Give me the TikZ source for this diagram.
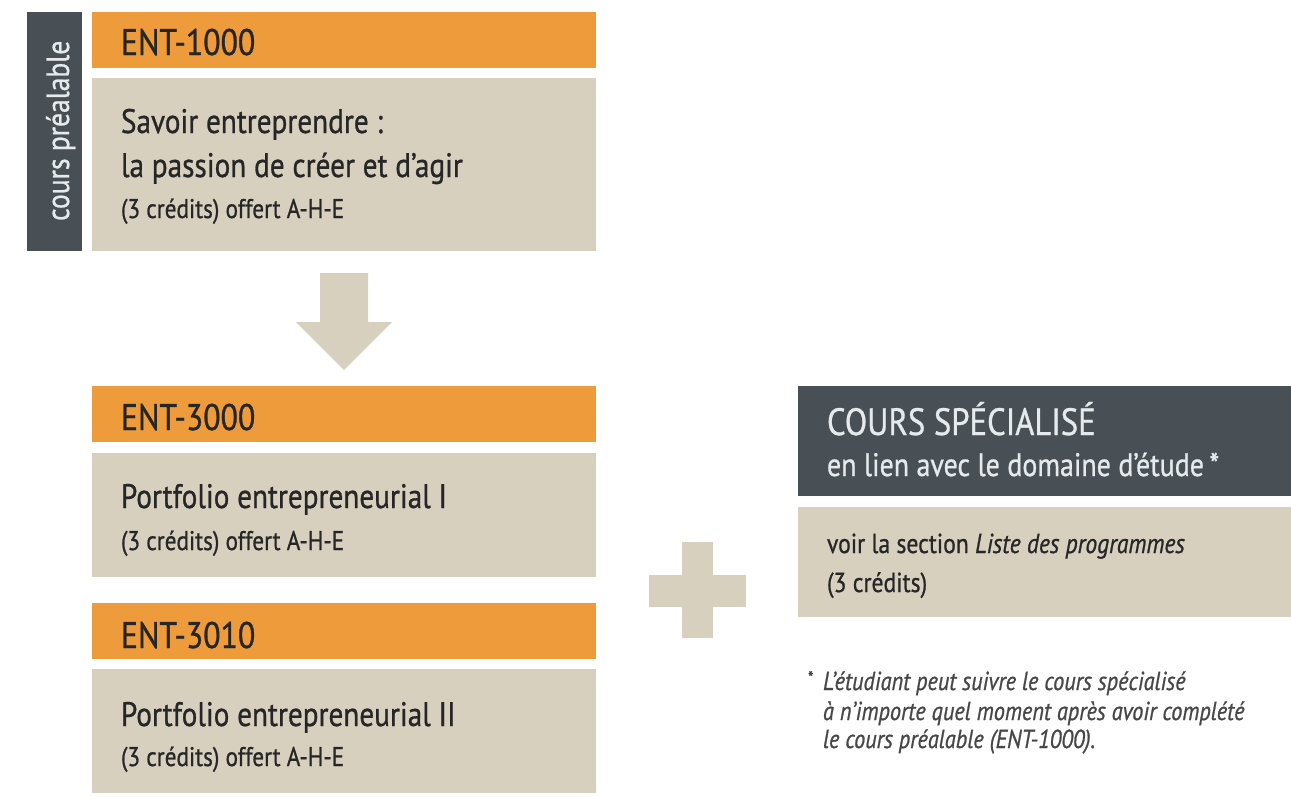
\documentclass[tikz,border=0pt]{standalone}
\usepackage{fontspec}
\setmainfont{PT Sans}[FakeStretch=0.86,FakeBold=0.8]
\definecolor{orng}{HTML}{EE9B3B}
\definecolor{beig}{HTML}{D7D0BF}
\definecolor{slate}{HTML}{485055}
\definecolor{ink}{HTML}{262626}
\definecolor{pale}{HTML}{E6EAEC}
\newcommand{\fs}[1]{\fontsize{#1}{#1}\selectfont}
\begin{document}
\begin{tikzpicture}[x=1pt,y=-1pt,
  panel/.style={draw=none,inner sep=0pt,outer sep=0pt,anchor=north west},
  codebar/.style={panel,fill=orng,minimum width=504pt,minimum height=56pt},
  descbox/.style={panel,fill=beig,minimum width=504pt},
  lbl/.style={anchor=base west,inner sep=0pt,outer sep=0pt,text=ink},
  code/.style={lbl,font=\fs{37}},
  title/.style={lbl,font=\fs{34}},
  small/.style={lbl,font=\fs{27}},
  note/.style={lbl,font=\fs{26}\itshape,text=ink!85}]
\useasboundingbox (0,0) rectangle (1291,796);
\fill[white] (0,0) rectangle (1291,796);
% side bar
\node[panel,fill=slate,minimum width=55pt,minimum height=239pt] (side) at (27,12) {};
\node[rotate=90,anchor=base west,inner sep=0pt,text=pale,font=\fs{32}] (sidet) at (69,221) {cours préalable};
% ENT-1000
\node[codebar] (h1) at (92,12) {};
\node[descbox,minimum height=173pt] (b1) at (92,78) {};
\node[code] (c1) at (121,55) {ENT-1000};
\node[title] (t1a) at (121,133) {Savoir entreprendre :};
\node[title] (t1b) at (121,177) {la passion de créer et d’agir};
\node[small] (s1) at (121,218) {(3 crédits) offert A-H-E};
% arrow
\fill[beig] (320,273) -- (368,273) -- (368,322) -- (392,322) -- (344,370) -- (296,322) -- (320,322) -- cycle;
% ENT-3000
\node[codebar] (h2) at (92,386) {};
\node[descbox,minimum height=124pt] (b2) at (92,453) {};
\node[code] (c2) at (121,430) {ENT-3000};
\node[title] (t2) at (121,508) {Portfolio entrepreneurial I};
\node[small] (s2) at (121,550) {(3 crédits) offert A-H-E};
% ENT-3010
\node[codebar] (h3) at (92,603) {};
\node[descbox,minimum height=124pt] (b3) at (92,669) {};
\node[code] (c3) at (121,648) {ENT-3010};
\node[title] (t3) at (121,726) {Portfolio entrepreneurial II};
\node[small] (s3) at (121,766) {(3 crédits) offert A-H-E};
% plus
\fill[beig] (682,542) rectangle (713,638);
\fill[beig] (649,575) rectangle (746,607);
% right
\node[panel,fill=slate,minimum width=493pt,minimum height=110pt] (h4) at (798,386) {};
\node[panel,fill=beig,minimum width=493pt,minimum height=110pt] (b4) at (798,507) {};
\node[lbl,text=pale,font=\fs{38}] (c4) at (827,435) {COURS SPÉCIALISÉ};
\node[lbl,text=pale,font=\fs{32.5}] (c4b) at (827,476) {en lien avec le domaine d'étude\,*};
\node[lbl,font=\fs{27.5}] (t4) at (827,553) {voir la section \textit{Liste des programmes}};
\node[lbl,font=\fs{27.5}] (s4) at (827,592) {(3 crédits)};
% footnote
\node[note,font=\fs{18}] (fa) at (808,684) {*};
\node[note] (f1) at (823,690) {L’étudiant peut suivre le cours spécialisé};
\node[note] (f2) at (823,720) {à n’importe quel moment après avoir complété};
\node[note] (f3) at (823,748) {le cours préalable (ENT-1000).};
\end{tikzpicture}
\end{document}
